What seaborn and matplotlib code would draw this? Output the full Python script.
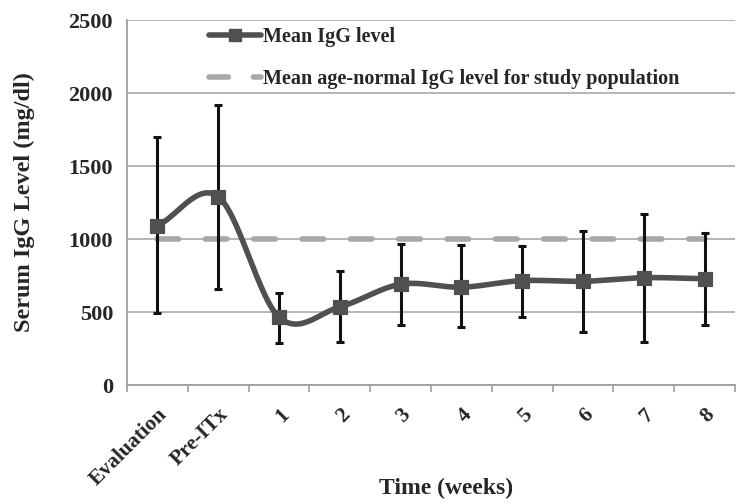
import numpy as np
import pandas as pd
import seaborn as sns
import matplotlib.pyplot as plt

# values
time_labels = ["Evaluation", "Pre-ITx", "1", "2", "3", "4", "5", "6", "7", "8"]
mean_igg = [1090, 1290, 465, 535, 690, 670, 715, 710, 735, 728]
err_upper = [1700, 1915, 632, 781, 966, 959, 954, 1055, 1171, 1043]
err_lower = [490, 657, 288, 294, 411, 397, 468, 363, 294, 411]
age_normal = 1000


def smooth_curve(x, y, steps=30):
    """Catmull-Rom spline through the points (like Excel's smoothed line)."""
    px = np.concatenate([[2 * x[0] - x[1]], x, [2 * x[-1] - x[-2]]])
    py = np.concatenate([[2 * y[0] - y[1]], y, [2 * y[-1] - y[-2]]])
    xs, ys = [], []
    t = np.linspace(0, 1, steps, endpoint=False)
    for i in range(1, len(px) - 2):
        for p, out in ((px, xs), (py, ys)):
            p0, p1, p2, p3 = p[i - 1], p[i], p[i + 1], p[i + 2]
            out.extend(0.5 * (2 * p1 + (-p0 + p2) * t
                              + (2 * p0 - 5 * p1 + 4 * p2 - p3) * t ** 2
                              + (-p0 + 3 * p1 - 3 * p2 + p3) * t ** 3))
    xs.append(x[-1])
    ys.append(y[-1])
    return np.array(xs), np.array(ys)


sns.set_style("white")
plt.rcParams["font.family"] = ["Liberation Serif", "DejaVu Serif"]
plt.rcParams["font.weight"] = "bold"

fig = plt.figure(figsize=(7.5, 5.04), dpi=100)
ax = fig.add_axes([0.1693, 0.2361, 0.8107, 0.7242])

xpos = np.arange(len(time_labels))
df = pd.DataFrame({"x": xpos, "mean": mean_igg})
sx, sy = smooth_curve(xpos.astype(float), np.array(mean_igg, dtype=float))
curve = pd.DataFrame({"x": sx, "y": sy})

# age-normal reference line
ref = pd.DataFrame({"x": xpos, "y": [age_normal] * len(xpos)})
sns.lineplot(data=ref, x="x", y="y", ax=ax, color="#a8a8a8", lw=4,
             dashes=False, zorder=2)
ref_line = ax.lines[-1]
ref_line.set_dashes((3.9, 4.8))
ref_line.set_dash_capstyle("round")

# error bars
yerr = [np.array(mean_igg) - np.array(err_lower),
        np.array(err_upper) - np.array(mean_igg)]
ax.errorbar(xpos, mean_igg, yerr=yerr, fmt="none", ecolor="#111111",
            elinewidth=2.2, capsize=2.8, capthick=2.2, zorder=3)

# smoothed mean line with square markers
sns.lineplot(data=curve, x="x", y="y", ax=ax, color="#505050", lw=4,
             zorder=4, sort=False)
sns.scatterplot(data=df, x="x", y="mean", ax=ax, marker="s", s=110,
                color="#505050", edgecolor="#505050", zorder=5)

ax.set_xlim(-0.5, len(time_labels) - 0.5)
ax.set_ylim(0, 2500)
ax.set_yticks(range(0, 2501, 500))
ax.yaxis.grid(True, color="#b0b0b0", lw=1.3)
ax.set_axisbelow(True)

ax.set_xticks(xpos)
ax.set_xticklabels(time_labels, rotation=45, ha="right",
                   rotation_mode="anchor", fontsize=15.5, fontweight="bold")
ax.set_xticks(np.arange(-0.5, len(time_labels)), minor=True)
ax.tick_params(axis="x", which="major", length=0, pad=14)
ax.tick_params(axis="x", which="minor", length=5, color="#a0a0a0",
               width=1.2, direction="out", bottom=True)
ax.tick_params(axis="y", labelsize=16, length=0, pad=10)
for lab in ax.get_yticklabels():
    lab.set_fontweight("bold")

for side in ["top", "right"]:
    ax.spines[side].set_visible(False)
for side in ["left", "bottom"]:
    ax.spines[side].set_color("#a0a0a0")
    ax.spines[side].set_linewidth(1.3)

ax.set_xlabel("Time (weeks)", fontsize=17, fontweight="bold")
ax.xaxis.set_label_coords(0.525, -0.255)
ax.set_ylabel("Serum IgG Level (mg/dl)", fontsize=17.5, fontweight="bold")
ax.yaxis.set_label_coords(-0.152, 0.5)

# legend
h_mean = plt.Line2D([], [], color="#505050", lw=4, marker="s", markersize=9)
h_ref = plt.Line2D([], [], color="#a8a8a8", lw=4, dashes=(3.5, 4.5),
                   dash_capstyle="round")
ax.legend([h_mean, h_ref],
          ["Mean IgG level", "Mean age-normal IgG level for study population"],
          loc="upper left", bbox_to_anchor=(0.105, 1.03), frameon=False,
          prop={"size": 14.5, "weight": "bold"}, handlelength=2.6,
          handletextpad=0.1, labelspacing=1.1)

fig.savefig("out.png", dpi=100)
